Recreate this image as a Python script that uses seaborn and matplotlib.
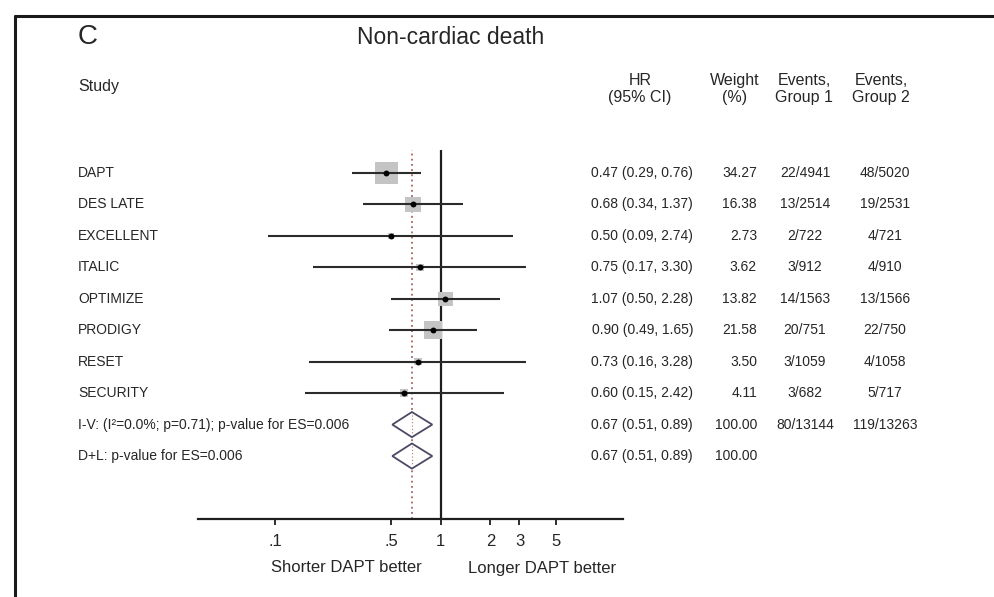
import numpy as np
import pandas as pd
import matplotlib
matplotlib.use("Agg")
import matplotlib.pyplot as plt
from matplotlib.lines import Line2D
from matplotlib.transforms import blended_transform_factory
import seaborn as sns

# ---------------- data ----------------
studies = ["DAPT", "DES LATE", "EXCELLENT", "ITALIC", "OPTIMIZE", "PRODIGY", "RESET", "SECURITY"]
hr = [0.47, 0.68, 0.50, 0.75, 1.07, 0.90, 0.73, 0.60]
ci_lo = [0.29, 0.34, 0.09, 0.17, 0.50, 0.49, 0.16, 0.15]
ci_hi = [0.76, 1.37, 2.74, 3.30, 2.28, 1.65, 3.28, 2.42]
weights = [34.27, 16.38, 2.73, 3.62, 13.82, 21.58, 3.50, 4.11]
events_g1 = ["22/4941", "13/2514", "2/722", "3/912", "14/1563", "20/751", "3/1059", "3/682"]
events_g2 = ["48/5020", "19/2531", "4/721", "4/910", "13/1566", "22/750", "4/1058", "5/717"]

pooled_labels = ["I-V: (I\u00b2=0.0%; p=0.71); p-value for ES=0.006", "D+L: p-value for ES=0.006"]
pooled_hr = [0.67, 0.67]
pooled_lo = [0.51, 0.51]
pooled_hi = [0.89, 0.89]
pooled_weight = ["100.00", "100.00"]
pooled_g1 = ["80/13144", ""]
pooled_g2 = ["119/13263", ""]

tick_values = [0.1, 0.5, 1, 2, 3, 5]
tick_labels = [".1", ".5", "1", "2", "3", "5"]

title = "Non-cardiac death"
panel = "C"
left_label = "Shorter DAPT better"
right_label = "Longer DAPT better"

# ---------------- style ----------------
sns.set_theme(style="white")
plt.rcParams['font.family'] = ['Liberation Sans', 'DejaVu Sans']
TXT = "#262626"

W, H = 994, 597
fig = plt.figure(figsize=(W / 100, H / 100), dpi=100)
fig.patch.set_facecolor("white")

def fx(x):
    return x / W

def fy(y):
    return 1 - y / H

# axes placement (pixel based)
ax_l, ax_r, ax_t, ax_b = 198, 623, 150, 519
ax = fig.add_axes([fx(ax_l), fy(ax_b), (ax_r - ax_l) / W, (ax_b - ax_t) / H])
ax.set_xscale("log")
ax.set_xlim(0.034, 12.7)
row0, dy = 173, 31.45
ax.set_ylim((ax_b - row0) / dy, (ax_t - row0) / dy)

df = pd.DataFrame({"study": studies, "hr": hr, "lo": ci_lo, "hi": ci_hi,
                   "weight": weights, "row": np.arange(len(studies))})

# weight squares
k = 7.5
sns.scatterplot(data=df, x="hr", y="row", size="weight",
                sizes=(k * min(weights), k * max(weights)), size_norm=(min(weights), max(weights)),
                marker="s", color="#c4c4c4", linewidth=0, legend=False, ax=ax, zorder=2)
# CI lines
ax.hlines(df["row"], df["lo"], df["hi"], color="#2b2b2b", lw=1.5, zorder=3)
# point estimates
sns.scatterplot(data=df, x="hr", y="row", color="black", s=18, linewidth=0,
                legend=False, ax=ax, zorder=4)

# reference lines
ax.axvline(1, color="#1e1e1e", lw=1.6, zorder=1)
ax.axvline(pooled_hr[0], color="#9a4a4a", lw=1.1, ls=(0, (1.2, 2.2)), zorder=1)

# pooled diamonds
n = len(studies)
hh = 0.40
for i, (e, lo, hi) in enumerate(zip(pooled_hr, pooled_lo, pooled_hi)):
    r = n + i
    ax.fill([lo, e, hi, e, lo], [r, r - hh, r, r + hh, r],
            facecolor="white", edgecolor="#4d4866", lw=1.3, zorder=5)
    ax.plot([e, e], [r - hh + 0.08, r + hh - 0.08], color="#b07070", lw=0.8,
            ls=(0, (1, 2)), zorder=6)

# axes styling
for s in ["top", "right", "left"]:
    ax.spines[s].set_visible(False)
ax.spines["bottom"].set_color("#1e1e1e")
ax.spines["bottom"].set_linewidth(1.6)
ax.set_xticks(tick_values)
ax.set_xticklabels(tick_labels)
ax.xaxis.set_minor_locator(matplotlib.ticker.NullLocator())
ax.tick_params(axis="x", bottom=True, direction="out", length=4.5, width=1.3,
               color="#1e1e1e", pad=6, labelsize=12, labelcolor=TXT)
ax.set_yticks([])
ax.set_xlabel("")
ax.set_ylabel("")
ax.patch.set_alpha(0)

# ---------------- text columns ----------------
tr = blended_transform_factory(fig.transFigure, ax.transData)
fs = 10
all_labels = studies + pooled_labels
all_hr = [f"{a:.2f} ({b:.2f}, {c:.2f})" for a, b, c in zip(hr, ci_lo, ci_hi)] + \
         [f"{a:.2f} ({b:.2f}, {c:.2f})" for a, b, c in zip(pooled_hr, pooled_lo, pooled_hi)]
all_w = [f"{w:.2f}" for w in weights] + pooled_weight
all_g1 = events_g1 + pooled_g1
all_g2 = events_g2 + pooled_g2
for i in range(len(all_labels)):
    ax.text(fx(78), i, all_labels[i], transform=tr, ha="left", va="center",
            fontsize=fs, color=TXT, clip_on=False)
    ax.text(fx(693), i, all_hr[i], transform=tr, ha="right", va="center",
            fontsize=fs, color=TXT, clip_on=False)
    ax.text(fx(757), i, all_w[i], transform=tr, ha="right", va="center",
            fontsize=fs, color=TXT, clip_on=False)
    ax.text(fx(805), i, all_g1[i], transform=tr, ha="center", va="center",
            fontsize=fs, color=TXT, clip_on=False)
    ax.text(fx(885), i, all_g2[i], transform=tr, ha="center", va="center",
            fontsize=fs, color=TXT, clip_on=False)

# headers
hfs = 11.5
fig.text(fx(78), fy(86), "Study", ha="left", va="center", fontsize=hfs, color=TXT)
for xc, lab in [(640, "HR\n(95% CI)"), (735, "Weight\n(%)"),
                (804, "Events,\nGroup 1"), (881, "Events,\nGroup 2")]:
    fig.text(fx(xc), fy(89), lab, ha="center", va="center", fontsize=hfs,
             color=TXT, multialignment="center", linespacing=1.15)

# titles
fig.text(fx(78), fy(37), panel, ha="left", va="center", fontsize=20, color=TXT)
fig.text(fx(451), fy(37), title, ha="center", va="center", fontsize=16.5, color=TXT)

# axis side labels
fig.text(fx(346), fy(568), left_label, ha="center", va="center", fontsize=12, color=TXT)
fig.text(fx(542), fy(568), right_label, ha="center", va="center", fontsize=12, color=TXT)

# outer frame (partially visible)
fig.add_artist(Line2D([fx(15), fx(15)], [fy(16), 0], transform=fig.transFigure,
                      color="#1a1a1a", lw=2.2))
fig.add_artist(Line2D([fx(15), 1], [fy(16), fy(16)], transform=fig.transFigure,
                      color="#1a1a1a", lw=2.2))

fig.savefig("out.png", dpi=100)
